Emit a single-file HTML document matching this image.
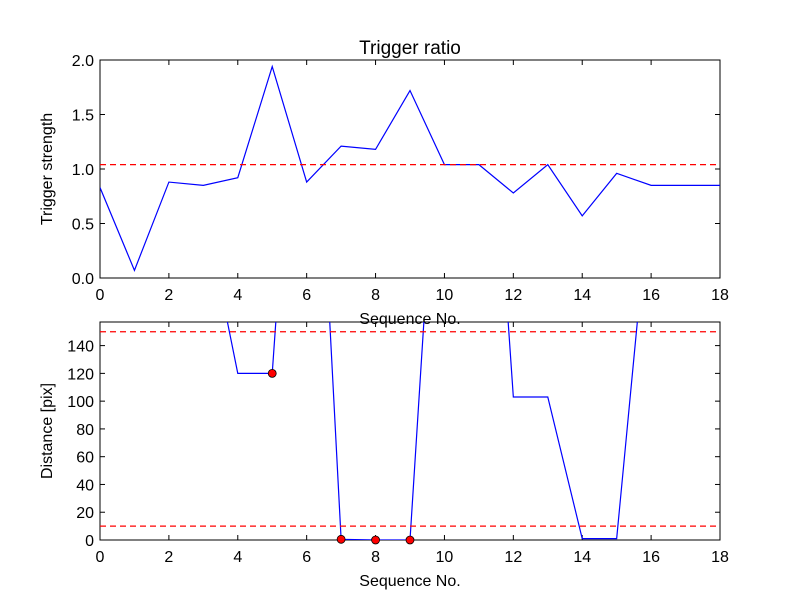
<!DOCTYPE html>
<html><head><meta charset="utf-8"><style>
body{margin:0;background:#fff}
svg{display:block;font-family:"Liberation Sans","DejaVu Sans",sans-serif}
</style></head><body>
<svg id="chart" width="800" height="600">
<rect width="800" height="600" fill="#fff"/>
<defs>
<clipPath id="c1"><rect x="100" y="60" width="620" height="218"/></clipPath>
<clipPath id="c2"><rect x="100" y="322" width="620" height="218"/></clipPath>
</defs>
<g id="topg"></g>
<g id="botg"></g>
</svg>
<script>
const seq = [0,1,2,3,4,5,6,7,8,9,10,11,12,13,14,15,16,17,18];
const strength = [0.83,0.07,0.88,0.85,0.92,1.94,0.88,1.21,1.18,1.72,1.04,1.04,0.78,1.04,0.57,0.96,0.85,0.85,0.85];
const strengthThreshold = [1.04];
const distance = [400,400,400,243,120,120,475,0.5,0,0,390,463,103,103,1,1,261,300,300];
const markedIdx = [5,7,8,9];
const distThresholds = [150,10];
const xTicks = [0,2,4,6,8,10,12,14,16,18];
const yTicksTop = [0.0,0.5,1.0,1.5,2.0];
const yTicksBot = [0,20,40,60,80,100,120,140];

const NS="http://www.w3.org/2000/svg";
function el(p,t,a){const e=document.createElementNS(NS,t);for(const k in a)e.setAttribute(k,a[k]);p.appendChild(e);return e;}
const L=100,R=720;
const xs=v=>L+(R-L)*v/18;

function panel(g,y0,y1,ymax,yf,ticks,vals,clip,ylabel,title){
  const ys=v=>y1-(y1-y0)*v/ymax;
  const frame=el(g,'rect',{x:L,y:y0,width:R-L,height:y1-y0,fill:'none',stroke:'#000','stroke-width':1});
  
  
  xTicks.forEach(t=>{
    const x=xs(t);
    el(g,'line',{x1:x,x2:x,y1:y1,y2:y1-5,stroke:'#000'});
    el(g,'line',{x1:x,x2:x,y1:y0,y2:y0+5,stroke:'#000'});
    const tx=el(g,'text',{x:x,y:y1+22,'text-anchor':'middle','font-size':16});
    tx.textContent=t;
    
    
  });
  ticks.forEach(t=>{
    const y=ys(t);
    el(g,'line',{x1:L,x2:L+5,y1:y,y2:y,stroke:'#000'});
    el(g,'line',{x1:R,x2:R-5,y1:y,y2:y,stroke:'#000'});
    const tx=el(g,'text',{x:L-6,y:y+6,'text-anchor':'end','font-size':16});
    tx.textContent=yf(t);
    
    
  });
  const xl=el(g,'text',{x:410,y:y1+46,'text-anchor':'middle','font-size':16});
  xl.textContent='Sequence No.';
  
  
  const yl=el(g,'text',{x:0,y:0,'text-anchor':'middle','font-size':16,transform:`translate(${L-48},${(y0+y1)/2}) rotate(-90)`});
  yl.textContent=ylabel;
  
  
  if(title){
    const ti=el(g,'text',{x:410,y:y0-6,'text-anchor':'middle','font-size':19});
    ti.textContent=title;
    
    
  }
  const cg=el(g,'g',{'clip-path':`url(#${clip})`});
  const pl=el(cg,'polyline',{points:vals.map((v,i)=>xs(seq[i])+','+ys(v)).join(' '),fill:'none',stroke:'#0000ff','stroke-width':1.2});
  
  
  return {ys,cg};
}

const topPanel=panel(document.getElementById('topg'),60,278,2,t=>t.toFixed(1),yTicksTop,strength,'c1','Trigger strength','Trigger ratio');
strengthThreshold.forEach(v=>{
  const l=el(topPanel.cg,'line',{x1:L,x2:R,y1:topPanel.ys(v),y2:topPanel.ys(v),stroke:'#ff0000','stroke-dasharray':'6,4','stroke-width':1.2});
  
  
});
const botPanel=panel(document.getElementById('botg'),322,540,157,t=>t,yTicksBot,distance,'c2','Distance [pix]',null);
distThresholds.forEach(v=>{
  const l=el(botPanel.cg,'line',{x1:L,x2:R,y1:botPanel.ys(v),y2:botPanel.ys(v),stroke:'#ff0000','stroke-dasharray':'6,4','stroke-width':1.2});
  
  
});
markedIdx.forEach(i=>{
  const c=el(document.getElementById('botg'),'circle',{cx:xs(seq[i]),cy:botPanel.ys(distance[i]),r:4,fill:'#ff0000',stroke:'#000','stroke-width':0.8});
  
  
});
</script>
</body></html>
